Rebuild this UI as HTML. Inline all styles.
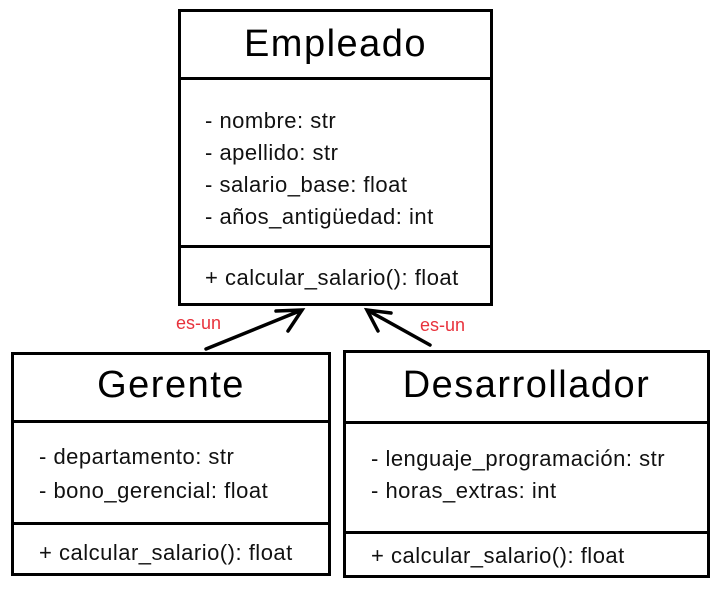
<!DOCTYPE html>
<html><head><style>
body{margin:0;width:721px;height:593px;background:#fff;position:relative;font-family:"Liberation Sans",sans-serif;overflow:hidden}
.b{position:absolute;border:3px solid #000;box-sizing:border-box}
.h{position:absolute;left:0;right:0;border-top:3px solid #000}
.t{position:absolute;left:0;right:0;text-align:center;font-size:38px;letter-spacing:1.5px;color:#000}
.l{position:absolute;font-size:22px;letter-spacing:0.5px;line-height:32px;color:#111;white-space:pre}
.r{position:absolute;color:#e8323c;font-size:18px}
</style></head><body>
<div class="b" style="left:178px;top:9px;width:315px;height:297px">
<div class="t" style="top:11px">Empleado</div>
<div class="h" style="top:65px"></div>
<div class="l" style="left:24px;top:93px">- nombre: str
- apellido: str
- salario_base: float
- años_antigüedad: int</div>
<div class="h" style="top:233px"></div>
<div class="l" style="left:24px;top:250px">+ calcular_salario(): float</div>
</div>
<div class="b" style="left:11px;top:352px;width:320px;height:224px">
<div class="t" style="top:9px">Gerente</div>
<div class="h" style="top:65px"></div>
<div class="l" style="left:25px;top:85px;line-height:34px">- departamento: str
- bono_gerencial: float</div>
<div class="h" style="top:167px"></div>
<div class="l" style="left:25px;top:182px">+ calcular_salario(): float</div>
</div>
<div class="b" style="left:343px;top:350px;width:367px;height:228px">
<div class="t" style="top:11px">Desarrollador</div>
<div class="h" style="top:68px"></div>
<div class="l" style="left:25px;top:90px">- lenguaje_programación: str
- horas_extras: int</div>
<div class="h" style="top:178px"></div>
<div class="l" style="left:25px;top:187px">+ calcular_salario(): float</div>
</div>
<svg style="position:absolute;left:0;top:0" width="721" height="593">
<g stroke="#000" stroke-width="3.5" fill="none" stroke-linecap="round">
<path d="M206 349 L302 310 M276 311 L302 310 L288 331"/>
<path d="M430 345 L367 310 M391 313 L367 310 L378 331"/>
</g></svg>
<div class="r" style="left:176px;top:313px">es-un</div>
<div class="r" style="left:420px;top:315px">es-un</div>
</body></html>
